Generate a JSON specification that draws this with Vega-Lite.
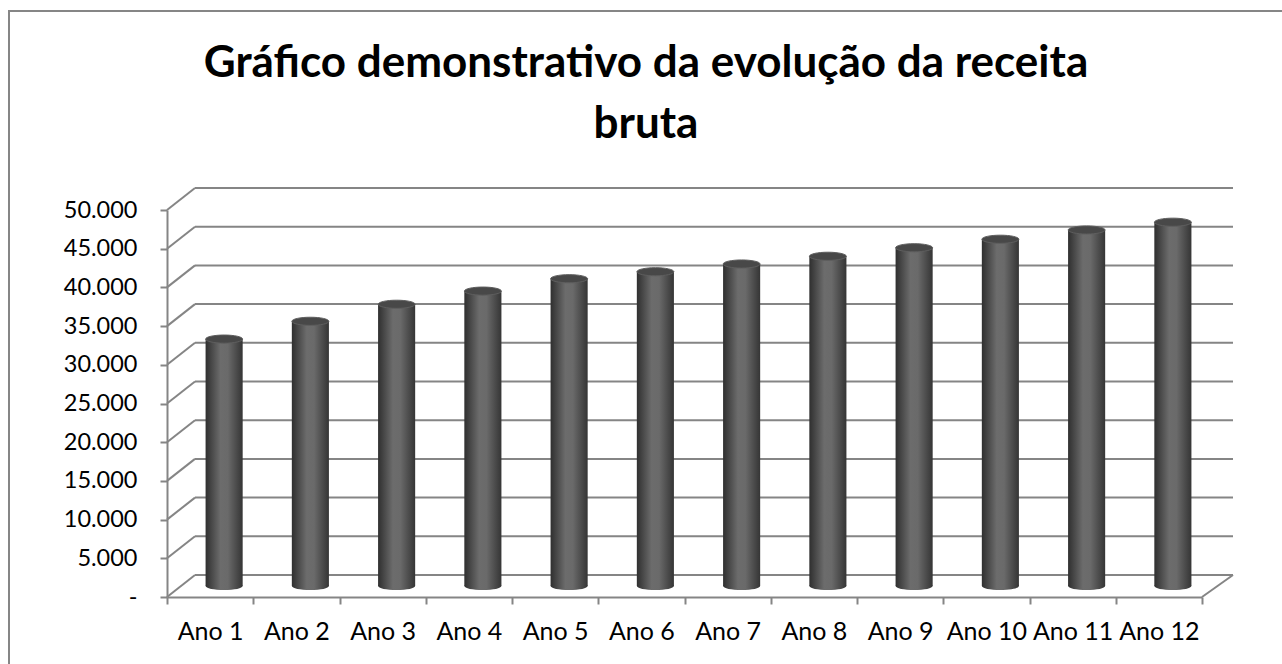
{
  "$schema": "https://vega.github.io/schema/vega-lite/v6.json",
  "autosize": "none",
  "width": 1274,
  "height": 660,
  "padding": {"left": 9, "top": 11, "right": 0, "bottom": 0},
  "background": "white",
  "config": {
    "view": {"stroke": "#868686", "strokeWidth": 2},
    "font": "Lato"
  },
  "title": {
    "text": ["Gráfico demonstrativo da evolução da receita", "bruta"],
    "font": "Lato",
    "fontSize": 44,
    "fontWeight": "bold",
    "color": "#000000",
    "anchor": "middle",
    "frame": "group",
    "baseline": "top",
    "lineHeight": 61,
    "offset": 0,
    "dy": 136
  },
  "datasets": {
    "receita": [
      {"ano": "Ano 1", "valor": 31900},
      {"ano": "Ano 2", "valor": 34200},
      {"ano": "Ano 3", "valor": 36400},
      {"ano": "Ano 4", "valor": 38100},
      {"ano": "Ano 5", "valor": 39700},
      {"ano": "Ano 6", "valor": 40600},
      {"ano": "Ano 7", "valor": 41600},
      {"ano": "Ano 8", "valor": 42600},
      {"ano": "Ano 9", "valor": 43700},
      {"ano": "Ano 10", "valor": 44800},
      {"ano": "Ano 11", "valor": 46000},
      {"ano": "Ano 12", "valor": 47000}
    ],
    "grade": [
      {"v": 0}, {"v": 5000}, {"v": 10000}, {"v": 15000}, {"v": 20000}, {"v": 25000},
      {"v": 30000}, {"v": 35000}, {"v": 40000}, {"v": 45000}, {"v": 50000}
    ],
    "canto": [{"v": 0}]
  },
  "resolve": {"scale": {"x": "independent", "y": "independent"}, "axis": {"x": "independent", "y": "independent"}},
  "layer": [
    {
      "data": {"name": "grade"},
      "mark": {"type": "rule", "color": "#858585", "strokeWidth": 2},
      "encoding": {
        "x": {"datum": 0, "type": "quantitative", "scale": {"domain": [0, 1], "range": [186, 1224], "nice": false, "zero": false}, "axis": null},
        "x2": {"datum": 1},
        "y": {"field": "v", "type": "quantitative", "scale": {"domain": [0, 50000], "range": [564, 177], "nice": false}, "axis": null}
      }
    },
    {
      "data": {"name": "grade"},
      "mark": {"type": "rule", "color": "#858585", "strokeWidth": 2, "yOffset": 22},
      "encoding": {
        "x": {"datum": 0, "type": "quantitative", "scale": {"domain": [0, 1], "range": [158, 186], "nice": false, "zero": false}, "axis": null},
        "x2": {"datum": 1},
        "y": {"field": "v", "type": "quantitative", "scale": {"domain": [0, 50000], "range": [564, 177], "nice": false}, "axis": null},
        "y2": {"field": "v"}
      }
    },
    {
      "data": {"name": "canto"},
      "mark": {"type": "rule", "color": "#858585", "strokeWidth": 2, "yOffset": 22},
      "encoding": {
        "x": {"datum": 0, "type": "quantitative", "scale": {"domain": [0, 1], "range": [1193, 1224], "nice": false, "zero": false}, "axis": null},
        "x2": {"datum": 1},
        "y": {"field": "v", "type": "quantitative", "scale": {"domain": [0, 50000], "range": [564, 177], "nice": false}, "axis": null},
        "y2": {"field": "v"}
      }
    },
    {
      "data": {"name": "receita"},
      "encoding": {
        "x": {"field": "ano", "type": "nominal", "sort": null, "scale": {"range": [172, 1207], "paddingInner": 0, "paddingOuter": 0}, "axis": null}
      },
      "layer": [
        {
          "mark": {"type": "point", "shape": "M -1 0 A 1 0.22 0 1 0 1 0 A 1 0.22 0 1 0 -1 0 Z", "size": 1369, "filled": true, "opacity": 1,
            "fill": {"gradient": "linear", "x1": 0, "y1": 0, "x2": 1, "y2": 0, "stops": [{"offset": 0, "color": "#2f2f2f"}, {"offset": 0.4, "color": "#6c6c6c"}, {"offset": 0.6, "color": "#6a6a6a"}, {"offset": 1, "color": "#353535"}]}},
          "encoding": {
            "y": {"datum": 0, "type": "quantitative", "scale": {"domain": [0, 50000], "range": [575, 188], "nice": false}, "axis": null}
          }
        },
        {
          "mark": {"type": "bar", "width": {"band": 0.43},
            "fill": {"gradient": "linear", "x1": 0, "y1": 0, "x2": 1, "y2": 0, "stops": [{"offset": 0, "color": "#2f2f2f"}, {"offset": 0.4, "color": "#6c6c6c"}, {"offset": 0.6, "color": "#6a6a6a"}, {"offset": 1, "color": "#353535"}]}},
          "encoding": {
            "y": {"field": "valor", "type": "quantitative", "scale": {"domain": [0, 50000], "range": [575, 188], "nice": false}, "axis": null}
          }
        },
        {
          "mark": {"type": "point", "shape": "M -1 0 A 1 0.22 0 1 0 1 0 A 1 0.22 0 1 0 -1 0 Z", "size": 1369, "filled": true, "opacity": 1, "fill": "#484848", "stroke": "#5e5e5e", "strokeWidth": 1},
          "encoding": {
            "y": {"field": "valor", "type": "quantitative", "scale": {"domain": [0, 50000], "range": [575, 188], "nice": false}, "axis": null}
          }
        }
      ]
    },
    {
      "data": {"name": "receita"},
      "mark": {"type": "point", "opacity": 0},
      "encoding": {
        "x": {"field": "ano", "type": "nominal", "sort": null, "title": null,
          "scale": {"range": [158, 1193], "paddingInner": 0, "paddingOuter": 0},
          "axis": {"orient": "bottom", "offset": -74, "tickBand": "extent", "tickSize": 7, "tickColor": "#858585", "tickWidth": 2, "domainColor": "#858585", "domainWidth": 2, "labelFont": "Lato", "labelFontSize": 25, "labelColor": "#000000", "labelPadding": 15, "labelAngle": 0, "grid": false}},
        "y": {"field": "valor", "type": "quantitative", "title": null,
          "scale": {"domain": [0, 50000], "range": [586, 199], "nice": false},
          "axis": {"orient": "left", "offset": -158, "values": [0, 5000, 10000, 15000, 20000, 25000, 30000, 35000, 40000, 45000, 50000], "tickSize": 7, "tickColor": "#858585", "tickWidth": 2, "domainColor": "#858585", "domainWidth": 2, "labelFont": "Lato", "labelFontSize": 23.5, "labelColor": "#000000", "labelPadding": 23, "grid": false,
            "labelExpr": "datum.value === 0 ? '-' : replace(format(datum.value, ','), ',', '.')"}}
      }
    }
  ]
}
